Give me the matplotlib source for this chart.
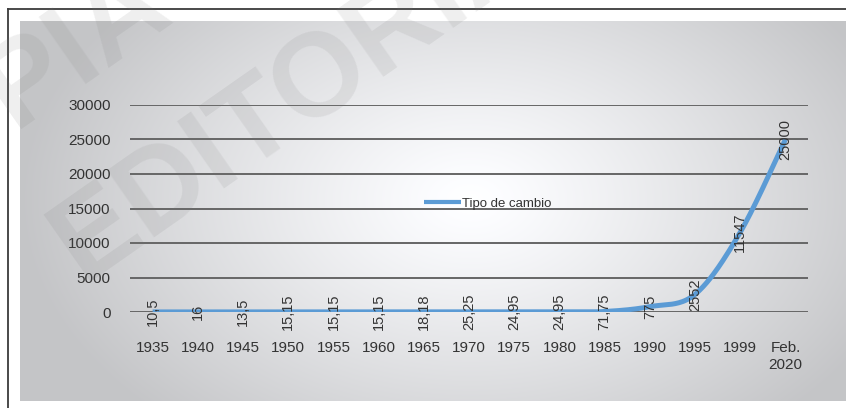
import numpy as np
import matplotlib
matplotlib.use("Agg")
import matplotlib.pyplot as plt
from matplotlib.lines import Line2D

plt.rcParams['font.family'] = ['Liberation Sans', 'DejaVu Sans']

# Exchange rate series
years = ["1935", "1940", "1945", "1950", "1955", "1960", "1965", "1970",
         "1975", "1980", "1985", "1990", "1995", "1999", "Feb.\n2020"]
tipo_de_cambio = [10.5, 16, 13.5, 15.15, 15.15, 15.15, 18.18, 25.25,
                  24.95, 24.95, 71.75, 775, 2552, 11547, 25000]
y_ticks = [0, 5000, 10000, 15000, 20000, 25000, 30000]
series_name = "Tipo de cambio"

W, H = 846, 408
fig = plt.figure(figsize=(W / 100, H / 100), dpi=100)
fig.patch.set_facecolor("white")

# Radial grey-to-white backdrop
bx0, bx1, by0, by1 = 20, 846, 21, 401
bg = fig.add_axes([bx0 / W, (H - by1) / H, (bx1 - bx0) / W, (by1 - by0) / H], zorder=0)
gx = np.linspace(bx0, bx1, 420)
gy = np.linspace(by0, by1, 200)
GX, GY = np.meshgrid(gx, gy)
d = np.sqrt(((GX - 470) / 450) ** 2 + ((GY - 200) / 300) ** 2)
t = np.clip(d, 0, 1) ** 1.15
val = 1 - t * (1 - 0.77)
rgb = np.dstack([val, val + 0.003, val + 0.012])
bg.imshow(np.clip(rgb, 0, 1), aspect="auto", interpolation="bilinear")
bg.set_axis_off()

# Frame lines at the left and top
fig.add_artist(Line2D([8 / W, 8 / W], [0, 1 - 9 / H], transform=fig.transFigure,
                      color="#3c3c3c", lw=1.3, zorder=1))
fig.add_artist(Line2D([8 / W, 1], [1 - 9 / H, 1 - 9 / H], transform=fig.transFigure,
                      color="#3c3c3c", lw=1.3, zorder=1))

# Chart area
left, right, top, bottom = 130, 808, 105, 312
ax = fig.add_axes([left / W, (H - bottom) / H, (right - left) / W, (bottom - top) / H], zorder=2)
ax.patch.set_alpha(0)
for s in ax.spines.values():
    s.set_visible(False)

n = len(tipo_de_cambio)
xs = np.arange(n)
ys = np.array(tipo_de_cambio, dtype=float)

# Smoothed line (Catmull-Rom / Bezier segments)
px, py = [], []
for i in range(n - 1):
    p0 = np.array([xs[max(i - 1, 0)], ys[max(i - 1, 0)]])
    p1 = np.array([xs[i], ys[i]])
    p2 = np.array([xs[i + 1], ys[i + 1]])
    p3 = np.array([xs[min(i + 2, n - 1)], ys[min(i + 2, n - 1)]])
    c1 = p1 + (p2 - p0) / 6
    c2 = p2 - (p3 - p1) / 6
    tt = np.linspace(0, 1, 40)[:, None]
    seg = ((1 - tt) ** 3) * p1 + 3 * ((1 - tt) ** 2) * tt * c1 + 3 * (1 - tt) * tt ** 2 * c2 + tt ** 3 * p2
    px.extend(seg[:, 0])
    py.extend(seg[:, 1])

ax.set_xlim(-0.5, n - 0.5)
ax.set_ylim(0, 30000)
ax.set_yticks(y_ticks)
ax.set_yticklabels([str(v) for v in y_ticks])
ax.set_xticks(xs)
ax.set_xticklabels(years, linespacing=1.3)
ax.yaxis.grid(True, color="#666666", lw=1.4)
ax.set_axisbelow(True)
ax.tick_params(axis="both", length=0, labelsize=11, colors="#333333")
ax.tick_params(axis="x", pad=21)
ax.tick_params(axis="y", pad=14)

ax.plot(px, py, color="#5b9bd5", lw=3.6, solid_capstyle="butt",
        label=series_name, zorder=3)

# Value labels, rotated and centred on each point
for x, v in zip(xs, tipo_de_cambio):
    ax.text(x, v, f"{v:g}".replace(".", ","), rotation=90, ha="center", va="center",
            fontsize=10.5, color="#333333", zorder=4)

leg = ax.legend(loc="center left", bbox_to_anchor=((424 - left) / (right - left), 0.522),
                frameon=False, fontsize=9.5, handlelength=2.8, handletextpad=0.1,
                borderpad=0, borderaxespad=0)
for txt in leg.get_texts():
    txt.set_color("#333333")
leg.get_lines()[0].set_linewidth(3)

# Diagonal watermark
for word, (cx, cy) in [("COPIA", (5, 100)), ("EDITORIAL", (325, 75))]:
    fig.text(cx / W, 1 - cy / H, word, fontsize=85, fontweight="bold", rotation=35,
             rotation_mode="anchor", ha="center", va="center",
             color="#7a7a7a", alpha=0.12, zorder=5)

fig.savefig("out.png", dpi=100)
